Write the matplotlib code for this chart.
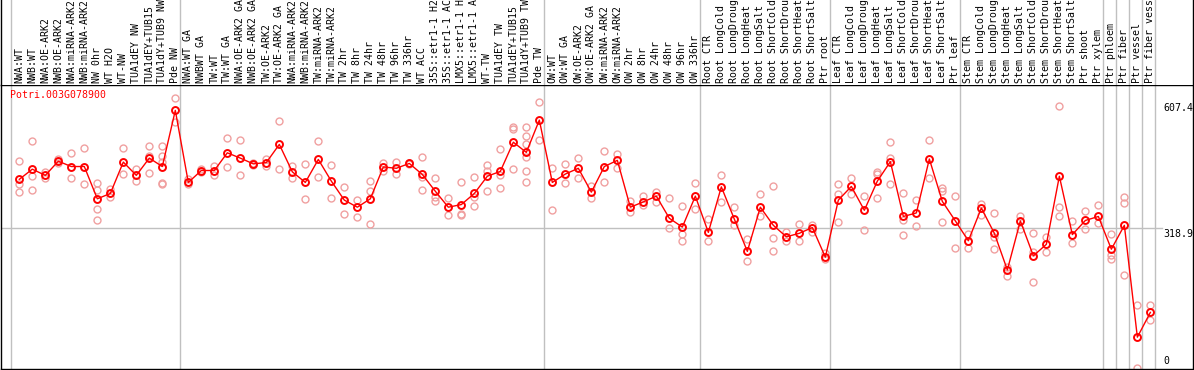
# Expression profile of Potri.003G078900 across poplar samples.

import matplotlib.pyplot as plt
from matplotlib.transforms import blended_transform_factory

gene = "Potri.003G078900"

# labels as shown in the header (long names are cut at 14 characters)
samples = [
    "NWA:WT", "NWB:WT", "NWA:OE-ARK2", "NWB:OE-ARK2", "NWA:miRNA-ARK2",
    "NWB:miRNA-ARK2", "NW 0hr", "WT H2O", "WT-NW", "TUA1dEY NW",
    "TUA1dEY+TUB15", "TUA1dY+TUB9 NW", "Pde NW",
    "NWA:WT GA", "NWBWT GA", "TW:WT", "TW:WT GA", "NWA:OE-ARK2 GA",
    "NWB:OE-ARK2 GA", "TW:OE-ARK2", "TW:OE-ARK2 GA", "NWA:miRNA-ARK2",
    "NWB:miRNA-ARK2", "TW:miRNA-ARK2", "TW:miRNA-ARK2", "TW 2hr", "TW 8hr",
    "TW 24hr", "TW 48hr", "TW 96hr", "TW 336hr", "WT ACC", "35S::etr1-1 H2",
    "35S::etr1-1 AC", "LMX5::etr1-1 H", "LMX5::etr1-1 A", "WT-TW",
    "TUA1dEY TW", "TUA1dEY+TUB15", "TUA1dY+TUB9 TW", "Pde TW",
    "OW:WT", "OW:WT GA", "OW:OE-ARK2", "OW:OE-ARK2 GA", "OW:miRNA-ARK2",
    "OW:miRNA-ARK2", "OW 2hr", "OW 8hr", "OW 24hr", "OW 48hr", "OW 96hr",
    "OW 336hr",
    "Root CTR", "Root LongCold", "Root LongDroug", "Root LongHeat",
    "Root LongSalt", "Root ShortCold", "Root ShortDrou", "Root ShortHeat",
    "Root ShortSalt", "Ptr root",
    "Leaf CTR", "Leaf LongCold", "Leaf LongDroug", "Leaf LongHeat",
    "Leaf LongSalt", "Leaf ShortCold", "Leaf ShortDrou", "Leaf ShortHeat",
    "Leaf ShortSalt", "Ptr leaf",
    "Stem CTR", "Stem LongCold", "Stem LongDroug", "Stem LongHeat",
    "Stem LongSalt", "Stem ShortCold", "Stem ShortDrou", "Stem ShortHeat",
    "Stem ShortSalt", "Ptr shoot", "Ptr xylem",
    "Ptr phloem", "Ptr fiber", "Ptr vessel", "Ptr fiber vess",
]

# first sample index of each group (last entry closes the final group)
group_starts = [0, 13, 41, 53, 63, 73, 84, 85, 86, 87, 88]

means = [
    429, 452, 438, 470, 458, 458, 385, 397, 468, 438, 477, 458, 585,
    422, 449, 449, 489, 477, 464, 467, 508, 446, 422, 474, 425, 382, 366,
    385, 457, 454, 465, 440, 402, 366, 372, 397, 436, 447, 513, 490, 563,
    422, 441, 454, 400, 458, 472, 366, 378, 391, 341, 321, 391,
    309, 412, 339, 266, 366, 325, 299, 307, 320, 253,
    382, 413, 359, 425, 469, 345, 353, 475, 379, 335,
    290, 364, 307, 224, 335, 256, 282, 436, 304, 336, 345,
    271, 325, 72, 128,
]

replicates = [
    [470, 418, 401], [516, 437, 405], [446, 431], [474, 466], [489, 431],
    [499, 418], [420, 405, 363, 336], [408, 389], [501, 440], [452, 426],
    [504, 482, 443], [504, 482, 469, 420, 418], [612, 559],
    [429, 418], [445, 453], [459, 438], [522, 456], [517, 438], [465, 462],
    [474, 459], [560, 453], [459, 431], [464, 384], [516, 434], [461, 387],
    [411, 350], [382, 344], [425, 403, 327], [467, 447], [468, 440],
    [467, 463], [479, 435, 406], [431, 390, 379], [386, 348],
    [422, 350, 348], [434, 388, 369], [461, 448, 402], [497, 438, 409],
    [548, 543, 452], [547, 528, 510, 480, 449, 422], [605, 519],
    [455, 359], [463, 420], [477, 431], [415, 386], [493, 424], [486, 455],
    [380, 354], [391, 370], [400, 378], [387, 320], [369, 305, 290],
    [421, 361],
    [339, 290], [438, 378], [366, 326], [293, 244], [395, 346],
    [413, 296, 266], [309, 290], [327, 289], [326, 311], [262, 248],
    [418, 395, 332], [433, 395], [391, 314], [446, 441, 387],
    [513, 477, 418], [397, 336, 303], [382, 323], [519, 432],
    [409, 402, 332], [391, 273],
    [305, 273], [373, 348], [352, 298, 271], [230, 211], [345, 317],
    [307, 264, 197], [299, 265], [596, 366, 345], [335, 284], [357, 317],
    [371, 331],
    [305, 258, 249], [390, 375, 212], [144, 2], [145, 111],
]

y_max = 607.4
y_mid = 318.9

W, H = 1194, 370
fig = plt.figure(figsize=(W / 100, H / 100), dpi=100)
ax = fig.add_axes([1 / W, 1 / H, 1192 / W, 284 / H])
hx = fig.add_axes([1 / W, 285 / H, 1192 / W, 85 / H], sharex=ax)

n = len(samples)
x = list(range(n))
ax.set_xlim(-1.408, 90.28)
ax.set_ylim(0, 642.4)
hx.set_ylim(0, 1)

for s in ["left", "bottom", "top", "right"]:
    ax.spines[s].set_color("black")
    ax.spines[s].set_linewidth(1)
for s in ["top", "bottom"]:
    hx.spines[s].set_visible(False)
hx.spines["left"].set_linewidth(1)
hx.spines["right"].set_linewidth(1)
for a in (ax, hx):
    a.set_xticks([])
    a.set_yticks([])

grid = "#c0c0c0"
for g in group_starts:
    ax.axvline(g - 0.64, color=grid, lw=1, zorder=1)
    hx.axvline(g - 0.64, color=grid, lw=1, zorder=1)
ax.axhline(y_mid, xmin=0, xmax=(1162 - 1) / 1192, color=grid, lw=1, zorder=1)

pink = "#f0a0a0"
rx, ry = [], []
for i, reps in enumerate(replicates):
    for v in reps:
        rx.append(i)
        ry.append(v)
ax.plot(rx, ry, ls="none", marker="o", ms=5, mfc="none", mec=pink,
        mew=1.0, zorder=2)
ax.plot(x, means, color="red", lw=1, marker="o", ms=5, mfc="none",
        mec="red", mew=1.4, zorder=3)

mono = "DejaVu Sans Mono"
fs = 7.1
trans = blended_transform_factory(hx.transData, hx.transAxes)
for i, lab in enumerate(samples):
    hx.text(i, 0.025, lab, rotation=90, ha="center", va="bottom",
            family=mono, fontsize=fs, transform=trans)

ax.text(-0.7, 631, gene, color="red", family=mono, fontsize=fs,
        ha="left", va="top")

xr = (1163 - 19.3) / 13
ax.text(xr, y_max - 6, f"{y_max}", family=mono, fontsize=fs, ha="left",
        va="top", clip_on=False)
ax.text(xr, y_mid - 2, f"{y_mid}", family=mono, fontsize=fs, ha="left",
        va="top", clip_on=False)
ax.text(xr, 6, "0", family=mono, fontsize=fs, ha="left", va="bottom",
        clip_on=False)

fig.savefig("out.png", dpi=100)
